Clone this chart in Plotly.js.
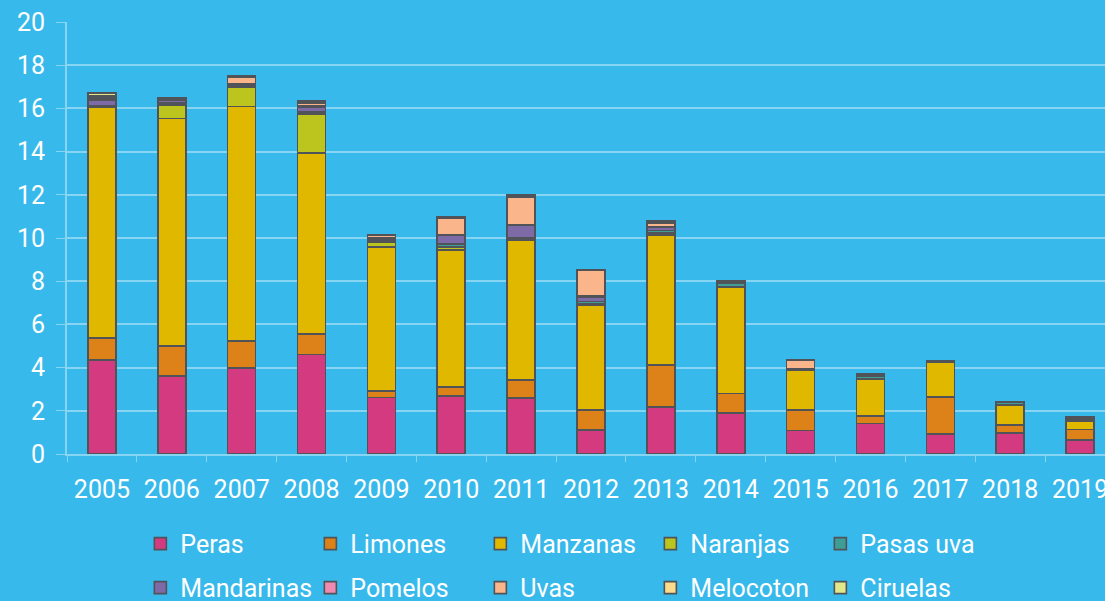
<!DOCTYPE html>
<html>
<head>
<meta charset="utf-8">
<script src="https://cdn.plot.ly/plotly-3.0.1.min.js"></script>
<style>
html,body{margin:0;padding:0;overflow:hidden;background:#38b9eb;}
#chart{width:1125px;height:601px;}
</style>
</head>
<body>
<div id="chart"></div>
<script>
const years = ['2005','2006','2007','2008','2009','2010','2011','2012','2013','2014','2015','2016','2017','2018','2019'];
const seriesNames = ['Peras','Limones','Manzanas','Naranjas','Pasas uva','Mandarinas','Pomelos','Uvas','Melocoton','Ciruelas'];
const peras      = [4.35,3.61,3.97,4.61,2.61,2.69,2.60,1.11,2.18,1.91,1.08,1.42,0.93,0.96,0.65];
const limones    = [1.02,1.39,1.26,0.95,0.32,0.41,0.83,0.93,1.94,0.90,0.96,0.34,1.72,0.37,0.49];
const manzanas   = [10.67,10.54,10.85,8.38,6.64,6.34,6.48,4.87,6.02,4.91,1.85,1.70,1.61,0.92,0.40];
const naranjas   = [0.05,0.62,0.90,1.80,0.25,0.15,0.06,0.05,0.10,0.04,0.02,0.04,0.02,0.04,0.08];
const pasasUva   = [0.05,0.10,0.08,0.08,0.08,0.12,0.05,0.10,0.10,0.14,0.02,0.12,0.01,0.10,0.06];
const mandarinas = [0.25,0.10,0.08,0.22,0.08,0.40,0.55,0.20,0.14,0.05,0.02,0.04,0.01,0.02,0.02];
const pomelos    = [0.10,0.05,0.02,0.06,0.03,0.03,0.02,0.05,0.05,0.02,0.01,0.02,0.00,0.00,0.00];
const uvas       = [0.05,0.00,0.28,0.16,0.12,0.80,1.30,1.18,0.15,0.02,0.38,0.02,0.01,0.00,0.00];
const melocoton  = [0.06,0.04,0.02,0.04,0.02,0.03,0.04,0.01,0.05,0.02,0.01,0.01,0.01,0.01,0.01];
const ciruelas   = [0.10,0.06,0.03,0.04,0.02,0.03,0.05,0.01,0.05,0.02,0.01,0.01,0.01,0.01,0.03];
const colors = ['#d43a7f','#dc8219','#e0b800','#bcc41e','#3e9e96','#7f6aa8','#f08ab0','#fbb58a','#fcdc8a','#e0e88a'];

const values = [peras,limones,manzanas,naranjas,pasasUva,mandarinas,pomelos,uvas,melocoton,ciruelas];
const traces = seriesNames.map((n,i)=>({
  type:'bar', name:n, x:years, y:values[i],
  marker:{color:colors[i], line:{color:'#505358', width:1.6}},
  legend: i<5 ? 'legend' : 'legend2',
  hoverinfo:'x+y+name'
}));

const grid = 'rgba(255,255,255,0.4)';
const fnt = {family:'Roboto, sans-serif', size:25, color:'#ffffff'};
const legendBase = {orientation:'h', xanchor:'left', yanchor:'middle', font:fnt,
  bgcolor:'rgba(0,0,0,0)', entrywidth:125, entrywidthmode:'pixels', itemwidth:30, traceorder:'normal'};

const layout = {
  width:1125, height:601,
  paper_bgcolor:'#38b9eb', plot_bgcolor:'#38b9eb',
  margin:{l:67, r:10, t:22, b:147, autoexpand:false},
  barmode:'stack', bargap:0.6,
  font:fnt,
  showlegend:true,
  xaxis:{type:'category', tickfont:fnt, ticks:'outside', tickson:'boundaries', ticklen:6,
    tickcolor:grid, showgrid:false, showline:true, linecolor:grid, linewidth:2,
    ticklabelstandoff:12, fixedrange:true, automargin:false},
  yaxis:{range:[0,20], dtick:2, tickfont:fnt, ticks:'outside', ticklen:9, tickcolor:grid,
    gridcolor:grid, gridwidth:2, showline:true, linecolor:grid, linewidth:2,
    zeroline:false, ticklabelstandoff:6, fixedrange:true, automargin:false},
  legend:Object.assign({x:0.07, y:-0.208}, legendBase),
  legend2:Object.assign({x:0.07, y:-0.31}, legendBase)
};

Plotly.newPlot('chart', traces, layout, {displayModeBar:false, staticPlot:true});
</script>
</body>
</html>
